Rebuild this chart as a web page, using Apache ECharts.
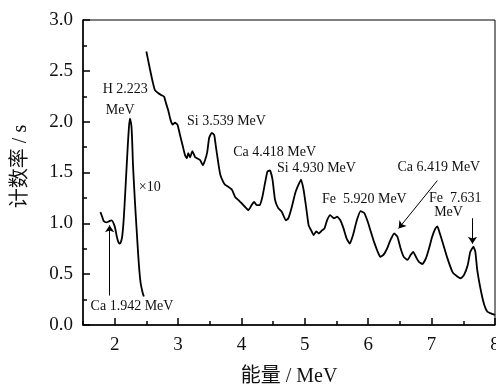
<!DOCTYPE html>
<html>
<head>
<meta charset="utf-8">
<script src="https://cdn.jsdelivr.net/npm/echarts@6/dist/echarts.min.js"></script>
<style>
  html, body { margin: 0; padding: 0; background: #fff; }
  #chart { width: 496px; height: 387px; }
</style>
</head>
<body>
<div id="chart"></div>
<script>
// x10 part of the spectrum (low energy)
const lowEnergy = [1.775, 1.80, 1.83, 1.87, 1.91, 1.95, 2.00, 2.03, 2.055, 2.08, 2.10, 2.12, 2.14, 2.16, 2.18, 2.20, 2.22, 2.24, 2.265, 2.29, 2.31, 2.33, 2.35, 2.37, 2.39, 2.41, 2.44, 2.46]
const lowCounts = [1.11, 1.07, 1.02, 1.01, 1.02, 1.03, 0.97, 0.88, 0.82, 0.80, 0.82, 0.88, 1.02, 1.23, 1.46, 1.69, 1.90, 2.03, 1.95, 1.56, 1.32, 1.10, 0.90, 0.70, 0.53, 0.41, 0.32, 0.28]

// main spectrum
const energy = [2.50, 2.555, 2.60, 2.635, 2.69, 2.74, 2.78, 2.81, 2.845, 2.88, 2.915, 2.95, 2.99, 3.03, 3.07, 3.11, 3.14, 3.16, 3.19, 3.225,
  3.27, 3.30, 3.35, 3.39, 3.425, 3.46, 3.49, 3.53, 3.57, 3.60, 3.64, 3.67, 3.71, 3.74, 3.79, 3.85, 3.90, 3.95, 4.00, 4.06,
  4.11, 4.16, 4.20, 4.24, 4.29, 4.33, 4.37, 4.41, 4.45, 4.49, 4.53, 4.58, 4.64, 4.70, 4.74, 4.79, 4.85, 4.90, 4.94, 4.98,
  5.02, 5.06, 5.10, 5.14, 5.18, 5.22, 5.27, 5.31, 5.35, 5.40, 5.46, 5.51, 5.56, 5.61, 5.66, 5.71, 5.76, 5.82, 5.88, 5.94,
  5.99, 6.04, 6.09, 6.15, 6.19, 6.24, 6.30, 6.35, 6.41, 6.46, 6.51, 6.56, 6.62, 6.67, 6.71, 6.76, 6.80, 6.855, 6.91, 6.96,
  7.01, 7.06, 7.09, 7.12, 7.18, 7.25, 7.33, 7.41, 7.46, 7.51, 7.57, 7.61, 7.66, 7.69, 7.72, 7.78, 7.83, 7.88, 7.95, 8.00]
const counts = [2.69, 2.52, 2.39, 2.31, 2.28, 2.26, 2.245, 2.18, 2.11, 2.02, 1.97, 1.99, 1.97, 1.87, 1.77, 1.67, 1.64, 1.69, 1.65, 1.71,
  1.65, 1.64, 1.62, 1.57, 1.62, 1.70, 1.84, 1.89, 1.87, 1.74, 1.57, 1.47, 1.41, 1.38, 1.36, 1.33, 1.26, 1.23, 1.20, 1.16,
  1.13, 1.18, 1.21, 1.18, 1.18, 1.26, 1.39, 1.51, 1.52, 1.43, 1.23, 1.15, 1.11, 1.03, 1.05, 1.15, 1.30, 1.38, 1.43, 1.33,
  1.16, 0.98, 0.93, 0.885, 0.92, 0.90, 0.93, 0.95, 1.03, 1.08, 1.05, 1.065, 1.03, 0.95, 0.85, 0.80, 0.885, 1.03, 1.12, 1.10,
  1.02, 0.92, 0.82, 0.72, 0.67, 0.69, 0.755, 0.835, 0.90, 0.87, 0.755, 0.67, 0.64, 0.69, 0.72, 0.66, 0.62, 0.60, 0.655, 0.755,
  0.87, 0.95, 0.97, 0.92, 0.80, 0.655, 0.52, 0.475, 0.46, 0.49, 0.59, 0.72, 0.77, 0.72, 0.54, 0.33, 0.20, 0.13, 0.11, 0.10]

const majorTicks = [2, 3, 4, 5, 6, 7, 8]
const minorTicks = [1.5, 2.5, 3.5, 4.5, 5.5, 6.5, 7.5]

// peak labels: text, left edge x, centre y (data units)
const labelTexts = ['H 2.223', 'MeV', '\u00d710', 'Ca 1.942 MeV', 'Si 3.539 MeV', 'Ca 4.418 MeV', 'Si 4.930 MeV', 'Fe  5.920 MeV', 'Ca 6.419 MeV', 'Fe  7.631', 'MeV']
const labelX = [1.81, 1.86, 2.38, 1.62, 3.14, 3.87, 4.56, 5.27, 6.46, 6.96, 7.04]
const labelY = [2.32, 2.11, 1.35, 0.18, 2.00, 1.70, 1.54, 1.24, 1.55, 1.25, 1.11]

// arrows: from -> to
const arrows = [
  [[1.92, 0.29], [1.92, 0.98]],
  [[7.09, 1.42], [6.48, 0.95]],
  [[7.645, 1.05], [7.645, 0.80]]
]

const serif = 'Liberation Serif, Times New Roman, Noto Sans CJK SC'

const chart = echarts.init(document.getElementById('chart'))

const option = {
  backgroundColor: '#fff',
  animation: false,
  grid: {
    left: 83, right: 1, top: 20, bottom: 62, outerBoundsMode: 'none',
    show: true, borderColor: '#000', borderWidth: 1
  },
  xAxis: [
    {
      type: 'value', min: 1.5, max: 8, position: 'bottom',
      name: '能量 / MeV', nameLocation: 'middle', nameGap: 42,
      nameTextStyle: { fontFamily: serif, fontSize: 20, color: '#111' },
      axisLine: { lineStyle: { color: '#000', width: 1.5 } },
      axisTick: { inside: true, length: 7, customValues: majorTicks, lineStyle: { color: '#000', width: 1.5 } },
      axisLabel: { customValues: majorTicks, fontFamily: serif, fontSize: 19, color: '#111', margin: 11 },
      splitLine: { show: false }
    },
    {
      type: 'value', min: 1.5, max: 8, position: 'bottom',
      axisLine: { show: false },
      axisTick: { inside: true, length: 4, customValues: minorTicks, lineStyle: { color: '#000', width: 1.5 } },
      axisLabel: { show: false },
      splitLine: { show: false }
    }
  ],
  yAxis: {
    type: 'value', min: 0, max: 3, interval: 0.5,
    name: '计数率 / s', nameLocation: 'middle', nameGap: 52,
    nameTextStyle: { fontFamily: serif, fontSize: 20, color: '#111', padding: [0, 0, 0, 12] },
    axisLine: { show: true, lineStyle: { color: '#000', width: 1.5 } },
    axisTick: { inside: true, length: 7, lineStyle: { color: '#000', width: 1.5 } },
    minorTick: { show: true, splitNumber: 2, length: 4, lineStyle: { color: '#000', width: 1.5 } },
    axisLabel: { formatter: v => v.toFixed(1), fontFamily: serif, fontSize: 19, color: '#111', margin: 10 },
    splitLine: { show: false }
  },
  series: [
    {
      type: 'line', xAxisIndex: 0,
      data: lowEnergy.map((e, i) => [e, lowCounts[i]]),
      showSymbol: false, smooth: 0.3,
      lineStyle: { color: '#000', width: 1.8 }
    },
    {
      type: 'line', xAxisIndex: 0,
      data: energy.map((e, i) => [e, counts[i]]),
      showSymbol: false, smooth: 0.15,
      lineStyle: { color: '#000', width: 1.8 },
      markPoint: {
        symbol: 'circle', symbolSize: 0, silent: true,
        label: {
          show: true, position: 'right', distance: 0,
          fontFamily: serif, fontSize: 14, color: '#111',
          formatter: p => p.name
        },
        data: labelTexts.map((t, i) => ({ name: t, coord: [labelX[i], labelY[i]] }))
      },
      markLine: {
        silent: true, symbol: ['none', 'arrow'], symbolSize: 7,
        label: { show: false },
        lineStyle: { color: '#000', width: 1, type: 'solid' },
        data: arrows.map(a => [{ coord: a[0] }, { coord: a[1] }])
      }
    }
  ]
}

chart.setOption(option)
</script>
</body>
</html>
